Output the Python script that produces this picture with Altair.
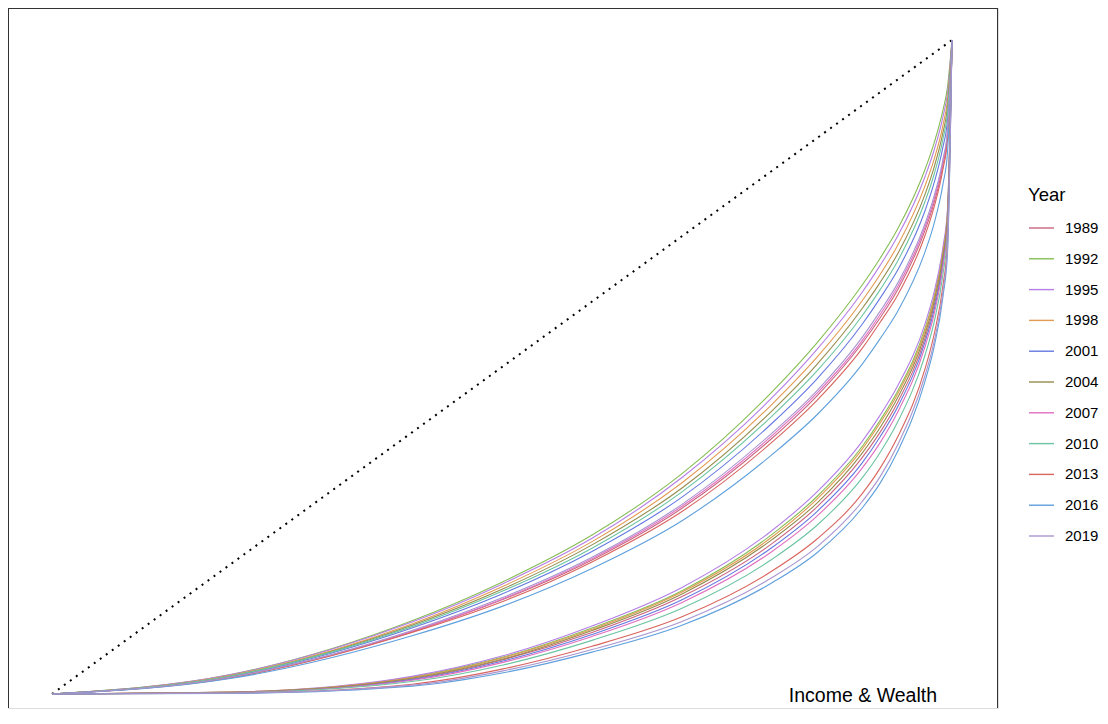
import altair as alt
import pandas as pd

# Cumulative population share grid
P = [0, 0.2, 0.4, 0.5, 0.6, 0.7, 0.8, 0.85, 0.9, 0.92, 0.94, 0.97, 0.98, 0.99, 0.995, 1.0]

years = ["1989", "1992", "1995", "1998", "2001", "2004", "2007", "2010", "2013", "2016", "2019"]
colors = ["#C9657F", "#86BE55", "#B57FE6", "#E39A52", "#6479E0", "#958C4C",
          "#E070C0", "#6CC4A2", "#D9655F", "#5FA0DC", "#A995CF"]

# Lorenz curve values (cumulative share)
income_1989 = [0, 0.026, 0.095, 0.144, 0.205, 0.284, 0.391, 0.456, 0.536, 0.575, 0.619, 0.709, 0.751, 0.809, 0.854, 1]
income_1992 = [0, 0.030, 0.112, 0.171, 0.243, 0.337, 0.462, 0.537, 0.625, 0.666, 0.712, 0.802, 0.842, 0.893, 0.928, 1]
income_1995 = [0, 0.030, 0.110, 0.168, 0.238, 0.331, 0.453, 0.527, 0.614, 0.655, 0.701, 0.791, 0.831, 0.883, 0.919, 1]
income_1998 = [0, 0.029, 0.107, 0.164, 0.233, 0.323, 0.443, 0.515, 0.601, 0.641, 0.687, 0.777, 0.817, 0.870, 0.908, 1]
income_2001 = [0, 0.027, 0.101, 0.153, 0.218, 0.301, 0.414, 0.482, 0.565, 0.605, 0.649, 0.739, 0.781, 0.837, 0.878, 1]
income_2004 = [0, 0.028, 0.105, 0.160, 0.228, 0.315, 0.433, 0.504, 0.589, 0.629, 0.674, 0.764, 0.805, 0.859, 0.898, 1]
income_2007 = [0, 0.026, 0.096, 0.145, 0.207, 0.287, 0.395, 0.460, 0.540, 0.580, 0.624, 0.714, 0.756, 0.814, 0.858, 1]
income_2010 = [0, 0.028, 0.103, 0.157, 0.223, 0.309, 0.425, 0.494, 0.578, 0.618, 0.663, 0.753, 0.794, 0.849, 0.889, 1]
income_2013 = [0, 0.025, 0.094, 0.141, 0.202, 0.279, 0.385, 0.449, 0.528, 0.568, 0.611, 0.701, 0.744, 0.803, 0.848, 1]
income_2016 = [0, 0.024, 0.089, 0.134, 0.192, 0.265, 0.366, 0.427, 0.504, 0.543, 0.586, 0.676, 0.719, 0.780, 0.828, 1]
income_2019 = [0, 0.026, 0.097, 0.147, 0.209, 0.290, 0.399, 0.464, 0.545, 0.585, 0.629, 0.719, 0.761, 0.818, 0.862, 1]

wealth_1989 = [0, 0.0025, 0.023, 0.052, 0.094, 0.149, 0.230, 0.286, 0.361, 0.400, 0.447, 0.544, 0.593, 0.665, 0.725, 1]
wealth_1992 = [0, 0.0028, 0.026, 0.056, 0.101, 0.158, 0.244, 0.302, 0.378, 0.418, 0.464, 0.559, 0.607, 0.678, 0.737, 1]
wealth_1995 = [0, 0.0030, 0.027, 0.058, 0.104, 0.163, 0.250, 0.309, 0.386, 0.426, 0.472, 0.566, 0.614, 0.684, 0.742, 1]
wealth_1998 = [0, 0.0028, 0.025, 0.055, 0.099, 0.156, 0.240, 0.298, 0.374, 0.414, 0.460, 0.555, 0.604, 0.675, 0.734, 1]
wealth_2001 = [0, 0.0024, 0.022, 0.050, 0.091, 0.144, 0.224, 0.279, 0.353, 0.393, 0.440, 0.538, 0.587, 0.660, 0.721, 1]
wealth_2004 = [0, 0.0026, 0.024, 0.053, 0.097, 0.153, 0.236, 0.292, 0.368, 0.407, 0.454, 0.550, 0.599, 0.670, 0.730, 1]
wealth_2007 = [0, 0.0022, 0.021, 0.048, 0.088, 0.140, 0.218, 0.272, 0.345, 0.384, 0.432, 0.531, 0.580, 0.654, 0.715, 1]
wealth_2010 = [0, 0.0019, 0.019, 0.044, 0.082, 0.131, 0.206, 0.258, 0.330, 0.369, 0.417, 0.518, 0.568, 0.642, 0.705, 1]
wealth_2013 = [0, 0.0014, 0.015, 0.038, 0.073, 0.118, 0.188, 0.237, 0.306, 0.345, 0.394, 0.497, 0.549, 0.625, 0.690, 1]
wealth_2016 = [0, 0.0010, 0.012, 0.032, 0.064, 0.105, 0.170, 0.216, 0.284, 0.322, 0.372, 0.478, 0.530, 0.608, 0.675, 1]
wealth_2019 = [0, 0.0012, 0.0135, 0.035, 0.068, 0.111, 0.178, 0.225, 0.294, 0.332, 0.382, 0.487, 0.538, 0.616, 0.682, 1]

income = dict(zip(years, [income_1989, income_1992, income_1995, income_1998, income_2001,
                          income_2004, income_2007, income_2010, income_2013, income_2016, income_2019]))
wealth = dict(zip(years, [wealth_1989, wealth_1992, wealth_1995, wealth_1998, wealth_2001,
                          wealth_2004, wealth_2007, wealth_2010, wealth_2013, wealth_2016, wealth_2019]))

rows = []
for kind, table in (("Income", income), ("Wealth", wealth)):
    for y in years:
        for p, v in zip(P, table[y]):
            rows.append({"p": p, "L": v, "Year": y, "series": kind + y})
df = pd.DataFrame(rows)

diag = pd.DataFrame({"p": [0, 1], "L": [0, 1]})

W, H = 990, 700
# mapping: 0 -> 44px, 1 -> 944px horizontally; 1 -> 32px, 0 -> 686px vertically
xdom = [-44 / 900, (W - 44) / 900]
ydom = [-(H - 686) / 654, 1 + 32 / 654]
xs = alt.Scale(domain=xdom, nice=False, zero=False)
ys = alt.Scale(domain=ydom, nice=False, zero=False)

FONT = "Liberation Sans"

lines = alt.Chart(df).mark_line(interpolate="monotone", strokeWidth=1.1, clip=True).encode(
    x=alt.X("p:Q", scale=xs, axis=None),
    y=alt.Y("L:Q", scale=ys, axis=None),
    color=alt.Color(
        "Year:N",
        scale=alt.Scale(domain=years, range=colors),
        legend=alt.Legend(
            title="Year", orient="none", legendX=1020, legendY=178,
            titleFont=FONT, titleFontSize=18.5, titleFontWeight="normal", titleColor="#000000",
            titlePadding=10,
            labelFont=FONT, labelFontSize=15, labelColor="#000000", labelOffset=10,
            symbolType="stroke", symbolSize=625, symbolStrokeWidth=1.4,
            rowPadding=8.8, padding=0,
        ),
    ),
    detail="series:N",
)

diagonal = alt.Chart(diag).mark_line(
    color="#000000", strokeWidth=2, strokeDash=[2, 5.4], strokeCap="butt"
).encode(
    x=alt.X("p:Q", scale=xs, axis=None),
    y=alt.Y("L:Q", scale=ys, axis=None),
)

frame_df = pd.DataFrame({"a": [0]})
left = alt.Chart(frame_df).mark_rule(color="#333333", strokeWidth=1).encode(
    x=alt.value(0.5), y=alt.value(0), y2=alt.value(H))
right = alt.Chart(frame_df).mark_rule(color="#333333", strokeWidth=1).encode(
    x=alt.value(W - 0.5), y=alt.value(0), y2=alt.value(H))
top = alt.Chart(frame_df).mark_rule(color="#333333", strokeWidth=1).encode(
    y=alt.value(0.5), x=alt.value(0), x2=alt.value(W))

label = alt.Chart(pd.DataFrame({"t": ["Income & Wealth"]})).mark_text(
    font=FONT, fontSize=19.5, align="right", baseline="alphabetic", color="#000000"
).encode(text="t:N", x=alt.value(929), y=alt.value(693.5))

chart = alt.layer(diagonal, lines, left, right, top, label).properties(
    width=W, height=H,
    autosize=alt.AutoSizeParams(type="none"),
    padding={"left": 0, "top": 0, "right": 102, "bottom": 4},
).configure_view(stroke=None).configure(background="#ffffff")

chart.save("out.html", embed_options={"renderer": "svg", "actions": False})
